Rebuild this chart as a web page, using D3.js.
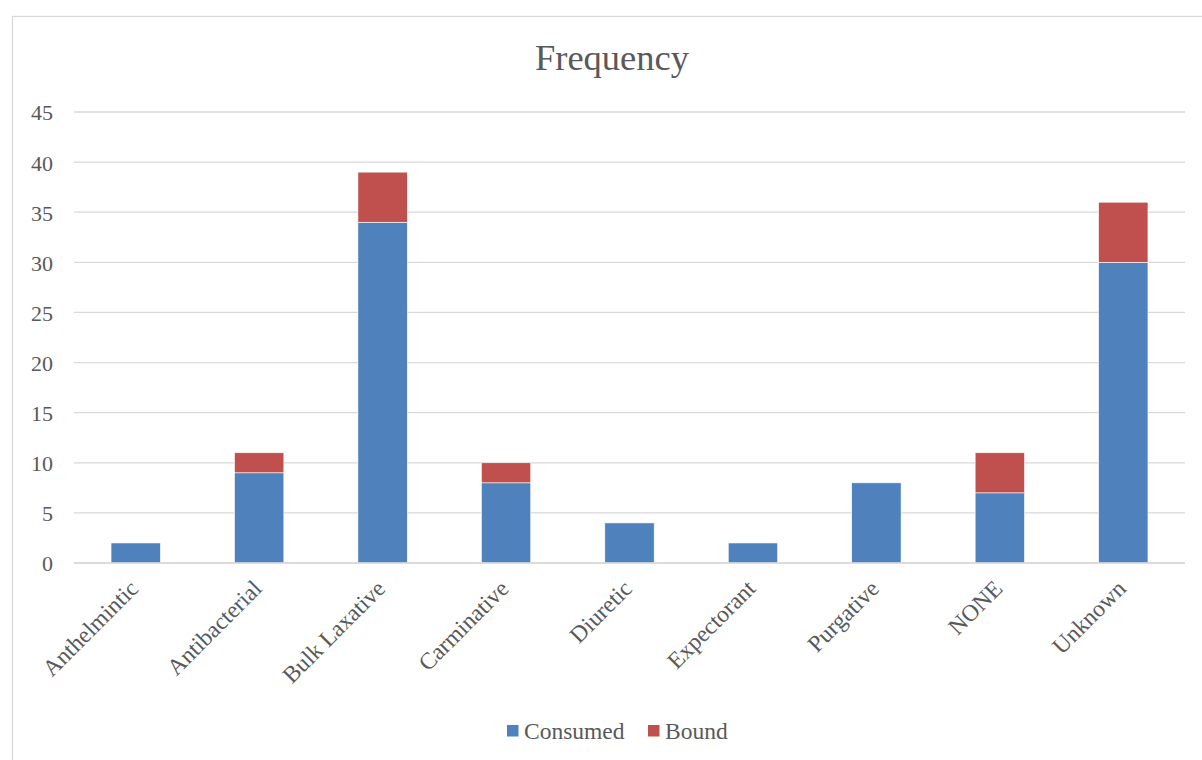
<!DOCTYPE html>
<html>
<head>
<meta charset="utf-8">
<script src="https://cdn.jsdelivr.net/npm/d3@7"></script>
<style>
  html, body { margin: 0; padding: 0; background: #fff; }
  svg { display: block; }
  svg text { font-family: "Liberation Serif", "Times New Roman", serif !important; fill: #595959; }
</style>
</head>
<body>
<svg id="chart" width="1202" height="760"></svg>
<script>
// Categories and stacked series
const categories = ["Anthelmintic", "Antibacterial", "Bulk Laxative", "Carminative", "Diuretic", "Expectorant", "Purgative", "NONE", "Unknown"];
const consumed = [2, 9, 34, 8, 4, 2, 8, 7, 30];
const bound = [0, 2, 5, 2, 0, 0, 0, 4, 6];
const seriesNames = ["Consumed", "Bound"];
const seriesColors = ["#4F81BD", "#C0504D"];
const yTicks = [0, 5, 10, 15, 20, 25, 30, 35, 40, 45];

const svg = d3.select("#chart");
const W = 1202, H = 760;
const margin = { left: 74, right: 17, top: 112, bottom: 197 };
const plotW = W - margin.left - margin.right;
const plotH = H - margin.top - margin.bottom;

// Outer chart border
svg.append("rect")
  .attr("x", 12.5).attr("y", 16.5)
  .attr("width", W + 10).attr("height", H + 10)
  .attr("fill", "#fff").attr("stroke", "#d9d9d9").attr("stroke-width", 1.3);

const g = svg.append("g").attr("transform", `translate(${margin.left},${margin.top})`);

const x = d3.scaleBand().domain(categories).range([0, plotW]).paddingInner(0.6).paddingOuter(0.3);
const y = d3.scaleLinear().domain([0, 45]).range([plotH, 0]);

// Horizontal gridlines
g.append("g").selectAll("line").data(yTicks).join("line")
  .attr("x1", 0).attr("x2", plotW)
  .attr("y1", d => y(d)).attr("y2", d => y(d))
  .attr("stroke", "#d9d9d9").attr("stroke-width", 1.3);

// Y axis labels
const yAxis = d3.axisLeft(y).tickValues(yTicks).tickSize(0).tickPadding(21);
g.append("g").call(yAxis)
  .call(s => s.select(".domain").remove())
  .selectAll("text")
  .attr("font-size", 22)
  .attr("dy", "0.36em");

// Stacked bars
const rows = categories.map((c, i) => ({ category: c, Consumed: consumed[i], Bound: bound[i] }));
const stacked = d3.stack().keys(seriesNames)(rows);

g.append("g").selectAll("g").data(stacked).join("g")
  .attr("fill", (d, i) => seriesColors[i])
  .selectAll("rect").data(d => d.filter(p => p[1] - p[0] > 0)).join("rect")
  .attr("x", d => x(d.data.category))
  .attr("width", x.bandwidth())
  .attr("y", d => y(d[1]))
  .attr("height", d => y(d[0]) - y(d[1]))
  .attr("stroke", "#fff").attr("stroke-width", 0.6);

// Baseline
g.append("line").attr("x1", 0).attr("x2", plotW).attr("y1", y(0)).attr("y2", y(0))
  .attr("stroke", "#d9d9d9").attr("stroke-width", 1.3);

// Category labels rotated
const xAxis = d3.axisBottom(x).tickSize(0).tickPadding(0);
g.append("g").attr("transform", `translate(0,${plotH})`).call(xAxis)
  .call(s => s.select(".domain").remove())
  .selectAll("text")
  .attr("font-size", 23.5)
  .attr("text-anchor", "end")
  .attr("dy", null)
  .attr("transform", "translate(4,27) rotate(-45)");

// Title
svg.append("text").attr("x", 612).attr("y", 70)
  .attr("text-anchor", "middle").attr("font-size", 36.5)
  .text("Frequency");

// Legend
const legend = svg.append("g");
const legendItems = [{ name: seriesNames[0], color: seriesColors[0], x: 507 }, { name: seriesNames[1], color: seriesColors[1], x: 648 }];
legendItems.forEach(it => {
  legend.append("rect").attr("x", it.x).attr("y", 725).attr("width", 11.5).attr("height", 11.5).attr("fill", it.color);
  legend.append("text").attr("x", it.x + 17).attr("y", 739)
    .attr("font-size", 23.5).text(it.name);
});
</script>
</body>
</html>
